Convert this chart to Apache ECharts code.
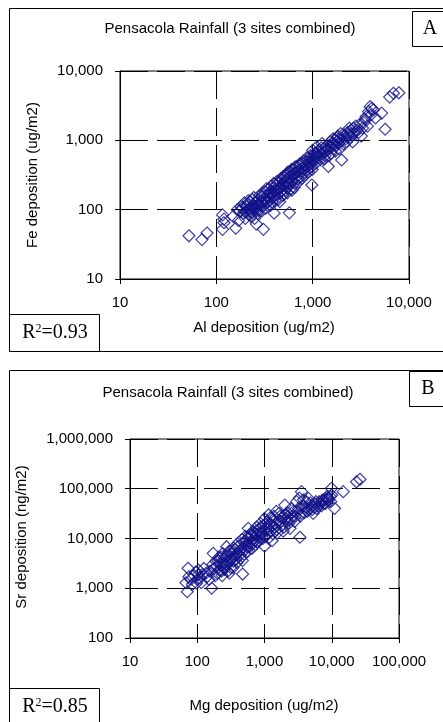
<!doctype html>
<html>
<head>
    <meta charset="utf-8">
    <title>Pensacola Rainfall</title>
    <style>
        html, body { margin: 0; padding: 0; background: #fff; }
        #chart { width: 443px; height: 722px; }
    </style>
</head>
<body>
<div id="chart"></div>
<script src="https://cdn.jsdelivr.net/npm/echarts@6/dist/echarts.min.js"></script>
<script>
    // panel A: Al vs Fe deposition (ug/m2)
    var alFe = [
        [52,42],[71,37],[80,46],[116,84],[120,73],[116,52],[120,65],[159,54],[165,100],[175,95],
        [185,105],[190,88],[200,92],[205,110],[210,120],[215,100],[220,85],[225,130],[230,95],[235,140],
        [240,105],[245,115],[250,75],[255,125],[258,95],[260,62],[265,110],[270,140],[275,120],[280,100],
        [290,130],[300,155],[308,52],[310,115],[320,180],[330,140],[335,125],[340,160],[350,200],[360,150],
        [370,170],[380,130],[390,185],[398,89],[400,210],[410,160],[420,230],[430,190],[440,140],[450,250],
        [460,175],[470,210],[480,270],[490,160],[500,230],[510,300],[520,190],[530,250],[540,330],[550,210],
        [560,280],[573,90],[580,230],[590,350],[600,260],[610,190],[620,300],[640,380],[650,240],[660,330],
        [680,420],[700,280],[720,360],[740,460],[760,300],[780,400],[800,500],[820,350],[850,440],[870,560],
        [900,380],[920,480],[950,600],[980,227],[980,420],[1000,520],[1000,720],[1020,550],[1050,650],[1080,470],
        [1100,580],[1100,800],[1150,700],[1200,520],[1250,640],[1250,900],[1300,760],[1350,600],[1400,700],[1455,420],
        [1500,820],[1550,650],[1600,900],[1650,760],[1700,1000],[1750,850],[1800,1100],[1850,900],[1900,750],[2000,520],
        [2000,1000],[2050,1200],[2100,880],[2200,1050],[2300,1300],[2400,1500],[2450,1100],[2500,1400],[2600,950],[2700,1250],
        [2800,1600],[3000,1300],[3200,1150],[3400,1800],[3500,2000],[3700,1600],[3950,3060],[4000,2300],[4270,2750],[4500,2100],
        [5200,2470],[5650,1445],[6890,4780],[7850,4850],[6300,4200],
        [150,80],[170,70],[180,110],[195,125],[200,75],[210,95],[215,135],[225,105],[228,80],[235,90],
        [245,150],[250,100],[260,130],[268,88],[280,160],[285,115],[295,95],[300,120],[305,175],[315,140],
        [325,105],[330,200],[345,130],[355,175],[365,115],[375,220],[385,150],[395,240],[405,135],[415,190],
        [425,255],[435,165],[445,205],[455,130],[465,280],[475,185],[485,235],[495,300],[505,170],[515,260],
        [525,215],[535,310],[545,175],[555,350],[565,240],[585,300],[595,200],[605,380],[615,250],[630,330],
        [645,210],[655,410],[670,290],[690,360],[710,250],[730,430],[750,340],[770,280],[790,470],[810,380],
        [840,320],[860,500],[880,420],[910,350],[940,540],[960,460],[990,380],[1030,600],[1060,520],[1120,640],
        [1180,560],[1230,780],[1280,680],[1330,540],[1380,820],[1430,740],[1480,600],[1520,950],[1580,800],[1630,1050],
        [1680,880],[1720,700],[1780,960],[1830,1150],[1880,1020],[1950,1250],[2150,1150],[2250,950],[2350,1200],[2550,1250],
        [2650,1500],[2900,1400],[3100,1700],[3300,1500],[3600,2200],[3800,2600],[4100,2900]
    ];
    // panel B: Mg (ug/m2) vs Sr (ng/m2)
    var mgSr = [
        [68,1290],[71,850],[73,2520],[80,1500],[90,1800],[98,1260],[104,2330],[110,1600],[120,1900],[135,2000],
        [150,1500],[164,1000],[173,5030],[180,2500],[190,3500],[200,2000],[210,4200],[220,3000],[230,2200],[240,5000],
        [250,3800],[260,2700],[273,6840],[280,4500],[290,3200],[300,2000],[310,5500],[320,3900],[340,2600],[350,6500],
        [370,4500],[390,3300],[400,8000],[420,5500],[440,4000],[460,9500],[473,1930],[480,6500],[500,4800],[520,11000],
        [540,7500],[560,5500],[573,16000],[600,12000],[620,8500],[650,6300],[680,14000],[700,10000],[730,7500],[760,17000],
        [800,12000],[830,9000],[870,20000],[900,14000],[950,10000],[1000,25000],[1000,7000],[1050,16000],[1100,12000],[1150,30000],
        [1200,20000],[1250,14000],[1300,9000],[1350,24000],[1400,17000],[1500,35000],[1550,13000],[1600,22000],[1700,28000],[1800,18000],
        [1900,14000],[2010,47000],[2100,25000],[2200,33000],[2300,20000],[2400,16000],[2500,40000],[2600,28000],[2800,22000],[3000,55000],
        [3100,35000],[3360,10600],[3400,28000],[3550,87500],[3700,45000],[3900,33000],[4200,55000],[4500,64000],[4600,38000],[5000,45000],
        [5300,32000],[5600,50000],[6000,40000],[6500,55000],[7000,45000],[7500,60000],[8000,50000],[8500,70000],[9000,60000],[9930,102000],
        [10000,75000],[11000,40400],[14800,87500],[23300,138000],[26300,155000],
        [75,1700],[85,1200],[95,2100],[100,1500],[105,1900],[115,1300],[125,2500],[140,1700],[155,2200],[170,3000],
        [185,1800],[195,2800],[205,3500],[215,2300],[225,4200],[235,1800],[245,3200],[255,2400],[265,4500],[275,3000],
        [285,2200],[295,5500],[305,3600],[315,2600],[330,4800],[345,3500],[360,6000],[375,3800],[385,5000],[410,7000],
        [430,4700],[450,6000],[470,3600],[490,8500],[510,5800],[530,9000],[550,6800],[580,10500],[610,7000],[640,11500],
        [660,8000],[690,13000],[720,9000],[750,12000],[780,8500],[820,15000],[850,11000],[880,17000],[920,12500],[970,18000],
        [1020,11000],[1080,21000],[1120,15000],[1180,10500],[1220,26000],[1280,18000],[1320,12500],[1380,28000],[1450,20000],[1520,15000],
        [1650,32000],[1750,22000],[1850,27000],[1950,17000],[2050,30000],[2150,22000],[2250,28000],[2450,24000],[2700,35000],[2900,28000],
        [3200,40000],[3300,65000],[3500,32000],[3800,60000],[4000,42000],[4300,35000],[4800,52000],[5100,38000],[5500,42000],[5800,55000],
        [6300,45000],[6800,50000],[7200,58000],[7800,52000],[8200,62000],[8800,66000],[9500,70000],[9700,55000]
    ];
    var titles = ['Pensacola Rainfall (3 sites combined)', 'Pensacola Rainfall (3 sites combined)'];
    var xNames = ['Al deposition (ug/m2)', 'Mg deposition (ug/m2)'];
    var yNames = ['Fe deposition (ug/m2)', 'Sr deposition (ng/m2)'];
    var panelTags = ['A', 'B'];
    var r2 = ['0.93', '0.85'];
    var xRange = [[10, 10000], [10, 100000]];
    var yRange = [[10, 10000], [100, 1000000]];

    var font = '"Liberation Sans", Arial, sans-serif';
    var serif = '"Liberation Serif", "Times New Roman", serif';
    var fmt = function (v) { return Math.round(v).toLocaleString('en-US'); };

    function axis(range, margin) {
        return {
            type: 'log', logBase: 10, min: range[0], max: range[1],
            axisLine: { show: true, onZero: false, lineStyle: { color: '#000', width: 1 } },
            axisTick: { show: true, length: 5, lineStyle: { color: '#000' } },
            minorTick: { show: false },
            axisLabel: { formatter: fmt, color: '#000', fontSize: 15, fontFamily: font, margin: margin },
            splitLine: { show: true, lineStyle: { color: '#000', width: 1, type: [28, 9] } }
        };
    }

    function txt(x, y, s, size, family, rot) {
        return {
            type: 'text', x: x, y: y, rotation: rot || 0, z: 10,
            style: { text: s, fill: '#000', font: size + 'px ' + family, align: 'center', verticalAlign: 'middle' }
        };
    }
    function box(x, y, w, h) {
        return {
            type: 'rect', z: 9, shape: { x: x, y: y, width: w, height: h },
            style: { fill: '#fff', stroke: '#000', lineWidth: 1 }
        };
    }
    function r2text(x, y, v) {
        return {
            type: 'text', x: x, y: y, z: 10,
            style: {
                text: '{r|R}{s|2}{r|=' + v + '}', align: 'center', verticalAlign: 'middle',
                rich: {
                    r: { fontSize: 20, fontFamily: serif, fill: '#000', verticalAlign: 'bottom' },
                    s: { fontSize: 12, fontFamily: serif, fill: '#000', verticalAlign: 'top', padding: [0, 0, 8, 0] }
                }
            }
        };
    }

    var marker = { color: 'rgba(0,0,0,0)', borderColor: '#12128a', borderWidth: 1.2 };

    var chart = echarts.init(document.getElementById('chart'));
    chart.setOption({
        animation: false,
        backgroundColor: '#fff',
        grid: [
            { left: 120, top: 71, width: 289, height: 208, show: true, borderColor: '#000', borderWidth: 1 },
            { left: 130, top: 439, width: 269, height: 199, show: true, borderColor: '#000', borderWidth: 1 }
        ],
        xAxis: [
            Object.assign(axis(xRange[0], 16), { gridIndex: 0 }),
            Object.assign(axis(xRange[1], 16), { gridIndex: 1 })
        ],
        yAxis: [
            Object.assign(axis(yRange[0], 17), { gridIndex: 0 }),
            Object.assign(axis(yRange[1], 17), { gridIndex: 1 })
        ],
        graphic: [
            // outer frames
            { type: 'rect', z: 0, silent: true, shape: { x: 9.5, y: 8.5, width: 445, height: 343 }, style: { fill: 'none', stroke: '#000', lineWidth: 1 } },
            { type: 'rect', z: 0, silent: true, shape: { x: 9.5, y: 370.5, width: 445, height: 360 }, style: { fill: 'none', stroke: '#000', lineWidth: 1 } },
            txt(230, 29, titles[0], 15, font),
            txt(228, 393, titles[1], 15, font),
            txt(264, 328, xNames[0], 15, font),
            txt(264, 706, xNames[1], 15, font),
            txt(33, 175, yNames[0], 15, font, Math.PI / 2),
            txt(22, 537, yNames[1], 15, font, Math.PI / 2),
            box(412.5, 11.5, 40, 35),
            txt(430, 29, panelTags[0], 20, serif),
            box(409.5, 371.5, 40, 35),
            txt(428, 389, panelTags[1], 20, serif),
            box(9.5, 314.5, 90, 37),
            r2text(55, 333, r2[0]),
            box(9.5, 688.5, 90, 40),
            r2text(55, 707, r2[1])
        ],
        series: [
            {
                type: 'scatter', xAxisIndex: 0, yAxisIndex: 0, data: alFe,
                symbol: 'diamond', symbolSize: 12, itemStyle: marker
            },
            {
                type: 'scatter', xAxisIndex: 1, yAxisIndex: 1, data: mgSr,
                symbol: 'diamond', symbolSize: 12, itemStyle: marker
            }
        ]
    });
</script>
</body>
</html>
